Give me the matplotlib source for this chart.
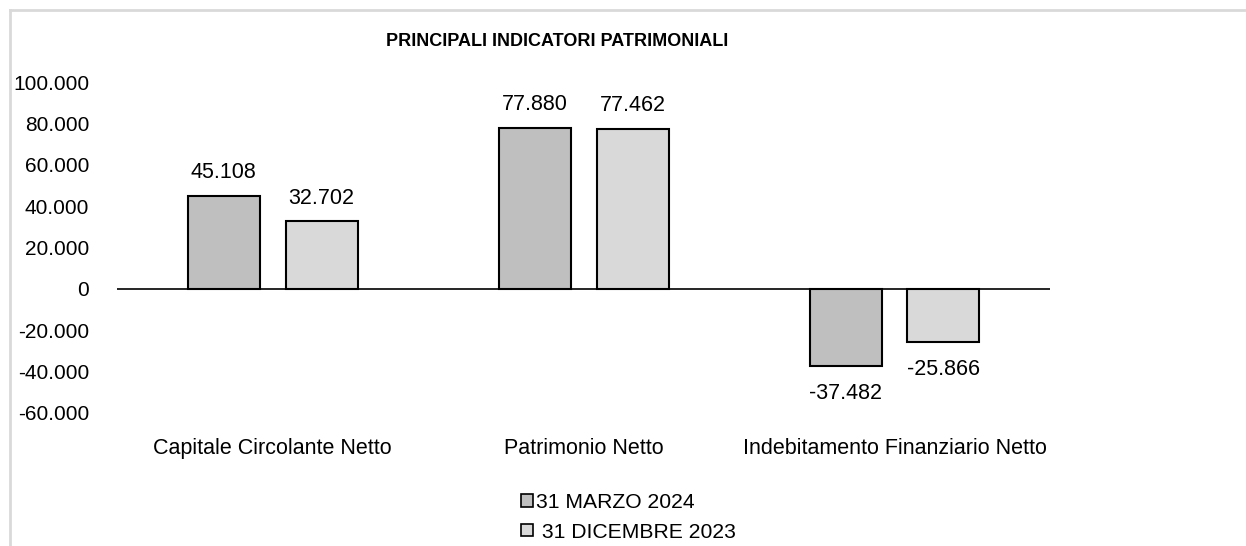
import matplotlib
matplotlib.use("Agg")
import matplotlib.pyplot as plt
from matplotlib.lines import Line2D
from matplotlib.patches import Patch
import numpy as np

plt.rcParams['font.family'] = ['Liberation Sans', 'DejaVu Sans']

categories = ["Capitale Circolante Netto", "Patrimonio Netto", "Indebitamento Finanziario Netto"]
series_names = ["31 MARZO 2024", " 31 DICEMBRE 2023"]
marzo_2024 = [45108, 77880, -37482]
dicembre_2023 = [32702, 77462, -25866]
yticks = [-60000, -40000, -20000, 0, 20000, 40000, 60000, 80000, 100000]

def fmt(v):
    s = f"{abs(v):,}".replace(",", ".")
    return ("-" if v < 0 else "") + s

W, H = 1246, 546
fig = plt.figure(figsize=(W / 100, H / 100), dpi=100)
ax = fig.add_axes([117 / W, 1 - 413 / H, (1050 - 117) / W, (413 - 82) / H])

x = np.arange(len(categories))
bw = 72 / 311
off = 49 / 311
colors = ["#BFBFBF", "#D9D9D9"]
for vals, o, c in [(marzo_2024, -off, colors[0]), (dicembre_2023, off, colors[1])]:
    bars = ax.bar(x + o, vals, width=bw, color=c, edgecolor="black", linewidth=1.5, zorder=2)
    for b, v in zip(bars, vals):
        if v >= 0:
            ax.annotate(fmt(v), (b.get_x() + b.get_width() / 2, v), xytext=(0, 9),
                        textcoords="offset points", ha="center", va="bottom", fontsize=15.5)
        else:
            ax.annotate(fmt(v), (b.get_x() + b.get_width() / 2, v), xytext=(0, -12),
                        textcoords="offset points", ha="center", va="top", fontsize=15.5)

ax.axhline(0, color="black", linewidth=1.2, zorder=3)
ax.set_xlim(-0.5, 2.5)
ax.set_ylim(-60000, 100000)
ax.set_yticks(yticks)
ax.set_yticklabels([fmt(v) for v in yticks], fontsize=15)
ax.set_xticks(x)
ax.set_xticklabels(categories, fontsize=15.5)
ax.tick_params(axis="y", length=0, pad=20)
ax.tick_params(axis="x", length=0, pad=18)
for s in ax.spines.values():
    s.set_visible(False)

fig.text(557 / W, 1 - 42 / H, "PRINCIPALI INDICATORI PATRIMONIALI", ha="center", va="center",
         fontsize=13, fontweight="bold")

handles = [Patch(facecolor=colors[0], edgecolor="black", linewidth=1.2),
           Patch(facecolor=colors[1], edgecolor="black", linewidth=1.2)]
fig.legend(handles, series_names, loc="upper left", bbox_to_anchor=(521 / W, 1 - 493 / H),
           frameon=False, fontsize=15.2, handlelength=0.55, handleheight=0.55,
           handletextpad=0.15, labelspacing=0.5, borderpad=0, borderaxespad=0)

fig.add_artist(Line2D([9.5 / W, 9.5 / W], [0, 1 - 10 / H], transform=fig.transFigure,
                      color="#D9D9D9", linewidth=2))
fig.add_artist(Line2D([9.5 / W, 1], [1 - 10 / H, 1 - 10 / H], transform=fig.transFigure,
                      color="#D9D9D9", linewidth=2))

fig.savefig("out.png", dpi=100)
